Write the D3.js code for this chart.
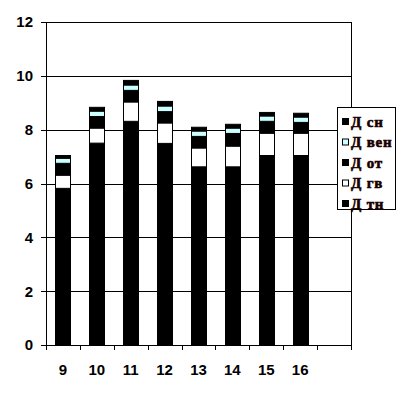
<!DOCTYPE html>
<meta charset="utf-8">
<style>
body { margin: 0; background: #fff; }
.tick-lbl { font-family: "Liberation Sans", Arial, sans-serif; font-size: 15px; font-weight: bold; fill: #000; }
.legend text { font-family: "Liberation Serif", "Times New Roman", serif; font-size: 15px; font-weight: bold; letter-spacing: 0.8px; fill: #1a0000; stroke: #1a0000; stroke-width: 0.6px; }
</style>
<body>
<div id="chart"></div>
<script src="https://d3js.org/d3.v7.min.js"></script>
<script>

// days on the x axis (last slot is left empty in the original)
var days = ["9", "10", "11", "12", "13", "14", "15", "16", ""];

// series, bottom to top
var tn  = [5.82, 7.50, 8.31, 7.49, 6.62, 6.62, 7.04, 7.04];
var gv  = [0.49, 0.56, 0.72, 0.76, 0.70, 0.77, 0.83, 0.83];
var ot  = [0.44, 0.43, 0.43, 0.42, 0.43, 0.47, 0.44, 0.40];
var ven = [0.19, 0.20, 0.20, 0.21, 0.20, 0.20, 0.20, 0.20];
var sn  = [0.10, 0.14, 0.17, 0.17, 0.14, 0.14, 0.13, 0.14];

var seriesNames = ["Д тн", "Д гв", "Д от", "Д вен", "Д сн"];
var seriesColors = ["#000", "#fff", "#000", "#ccffff", "#000"];
var yTicks = [0, 2, 4, 6, 8, 10, 12];

var width = 407, height = 397;
var plotL = 46, plotR = 351, plotT = 22, plotB = 345;

var svg = d3.select("#chart").append("svg")
    .attr("width", width)
    .attr("height", height);

var x = d3.scaleBand().domain(days).range([plotL, plotR]).padding(0);
var y = d3.scaleLinear().domain([0, 12]).range([plotB, plotT]);

// gridlines
svg.append("g").selectAll("line")
  .data(yTicks.filter(function(d) { return d > 0; }))
  .enter().append("line")
    .attr("x1", plotL - 5).attr("x2", plotR)
    .attr("y1", function(d) { return Math.round(y(d)) + 0.5; })
    .attr("y2", function(d) { return Math.round(y(d)) + 0.5; })
    .attr("stroke", "#000");

// right border
svg.append("line")
    .attr("x1", plotR + 0.5).attr("x2", plotR + 0.5)
    .attr("y1", plotT).attr("y2", plotB + 5)
    .attr("stroke", "#000");

// stacked bars
var rows = days.slice(0, 8).map(function(d, i) {
  return { day: d, s0: tn[i], s1: gv[i], s2: ot[i], s3: ven[i], s4: sn[i] };
});
var stack = d3.stack().keys(["s0", "s1", "s2", "s3", "s4"]);
var layers = stack(rows);
var barW = Math.round(x.bandwidth() / 2.2);

svg.append("g").selectAll("g")
  .data(layers)
  .enter().append("g")
    .attr("fill", function(d, i) { return seriesColors[i]; })
  .selectAll("rect")
  .data(function(d) { return d; })
  .enter().append("rect")
    .attr("x", function(d) { return Math.round(x(d.data.day) + (x.bandwidth() - barW) / 2) + 0.5; })
    .attr("width", barW)
    .attr("y", function(d) { return y(d[1]); })
    .attr("height", function(d) { return y(d[0]) - y(d[1]); })
    .attr("stroke", "#000")
    .attr("stroke-width", 1);

// axes
svg.append("line")
    .attr("x1", plotL + 0.5).attr("x2", plotL + 0.5)
    .attr("y1", plotT).attr("y2", plotB + 5)
    .attr("stroke", "#000");
svg.append("line")
    .attr("x1", plotL - 5).attr("x2", plotR)
    .attr("y1", plotB + 0.5).attr("y2", plotB + 0.5)
    .attr("stroke", "#000");

svg.append("g").selectAll("text")
  .data(yTicks)
  .enter().append("text")
    .attr("class", "tick-lbl")
    .attr("x", 33)
    .attr("y", function(d) { return y(d); })
    .attr("dy", "0.36em")
    .attr("text-anchor", "end")
    .text(function(d) { return d; });

// x ticks at band boundaries
var bounds = days.map(function(d) { return x(d); }).concat([plotR]);
svg.append("g").selectAll("line")
  .data(bounds)
  .enter().append("line")
    .attr("x1", function(d) { return Math.round(d) + 0.5; })
    .attr("x2", function(d) { return Math.round(d) + 0.5; })
    .attr("y1", plotB).attr("y2", plotB + 5)
    .attr("stroke", "#000");

svg.append("g").selectAll("text")
  .data(days)
  .enter().append("text")
    .attr("class", "tick-lbl")
    .attr("x", function(d) { return x(d) + x.bandwidth() / 2; })
    .attr("y", 375)
    .attr("text-anchor", "middle")
    .text(function(d) { return d; });

// legend
var legend = svg.append("g").attr("class", "legend");
legend.append("rect")
    .attr("x", 337.5).attr("y", 107.5)
    .attr("width", 58).attr("height", 102)
    .attr("fill", "#fff")
    .attr("stroke", "#000");

var legendItems = seriesNames.map(function(n, i) { return { name: n, color: seriesColors[i] }; }).reverse();
var li = legend.selectAll("g.item")
  .data(legendItems)
  .enter().append("g")
    .attr("class", "item")
    .attr("transform", function(d, i) { return "translate(0," + (122 + i * 20.5) + ")"; });

li.append("rect")
    .attr("x", 342.5).attr("y", -3.5)
    .attr("width", 6).attr("height", 6)
    .attr("fill", function(d) { return d.color; })
    .attr("stroke", "#000");

li.append("text")
    .attr("x", 351)
    .attr("y", 4.5)
    .text(function(d) { return d.name; });

</script>
</body>
